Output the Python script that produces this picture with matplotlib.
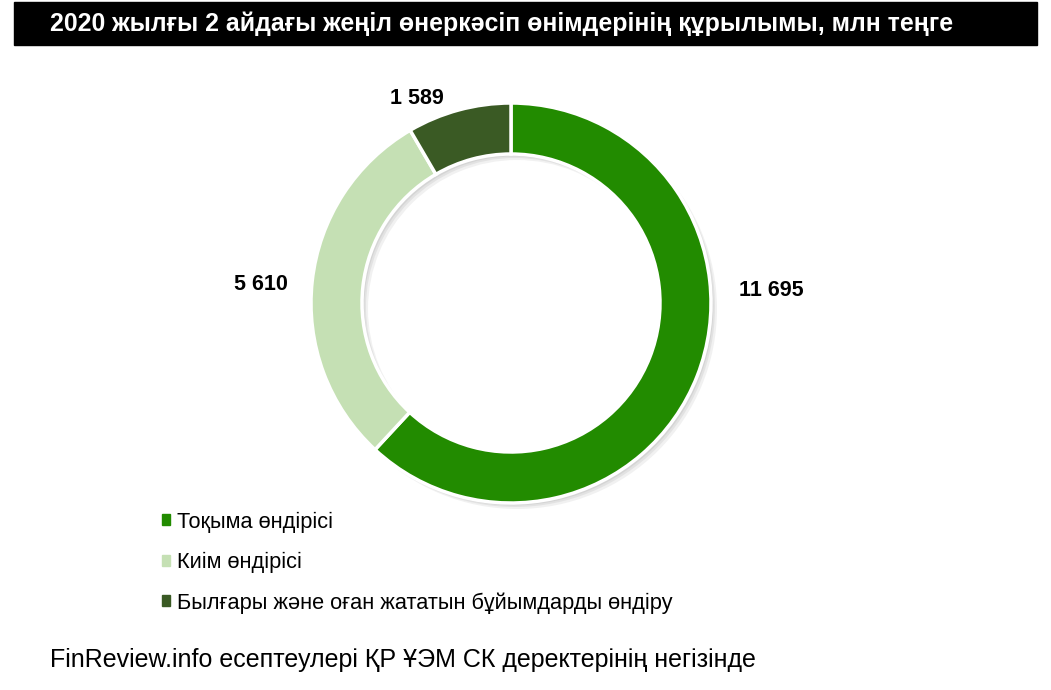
import matplotlib
matplotlib.use("Agg")
import matplotlib.pyplot as plt
import matplotlib.patches as mpatches
import numpy as np

# data
categories = ["Тоқыма өндірісі", "Киім өндірісі",
              "Былғары және оған жататын бұйымдарды өндіру"]
values = [11695, 5610, 1589]
colors = ["#228B00", "#C5E0B4", "#3A5A24"]
label_pos = [(1.3, 0.06), (-1.25, 0.095), (-0.47, 1.02)]

title = "2020 жылғы 2 айдағы жеңіл өнеркәсіп өнімдерінің құрылымы, млн теңге"
source = "FinReview.info есептеулері ҚР ҰЭМ СК деректерінің негізінде"

plt.rcParams['font.family'] = ['Liberation Sans', 'DejaVu Sans']

W, H = 1051, 690
fig = plt.figure(figsize=(W / 100, H / 100), dpi=100)
fig.patch.set_facecolor("white")

# title bar
fig.patches.append(mpatches.Rectangle((14 / W, 1 - 45 / H), (1037 - 14) / W, 43 / H,
                                      transform=fig.transFigure, color="black", zorder=0))
fig.text(50 / W, 1 - 24 / H, title, color="white", fontsize=17.9, fontweight="bold",
         va="center", ha="left")

# donut
cx, cy, r = 511, 303, 200
ax = fig.add_axes([(cx - r) / W, (H - cy - r) / H, 2 * r / W, 2 * r / H])
# soft shadow
for k, a in [(0.03, 0.25), (0.02, 0.35), (0.012, 0.5)]:
    ax.pie([1], radius=1.0, colors=["#c8c8c8"], center=(k, -k),
           wedgeprops=dict(width=0.255, edgecolor="none", alpha=a))
wedges, _ = ax.pie(values, colors=colors, startangle=90, counterclock=False,
                   wedgeprops=dict(width=0.255, edgecolor="white", linewidth=2.5))
ax.set_xlim(-1, 1)
ax.set_ylim(-1, 1)
ax.set_aspect("equal")
ax.axis("off")
for p in ax.patches:
    p.set_clip_on(False)

for v, (x, y) in zip(values, label_pos):
    ax.text(x, y, f"{v:,}".replace(",", " "), ha="center", va="center",
            fontsize=15.5, fontweight="bold", color="black")

handles = [mpatches.Patch(color=c, label=l) for c, l in zip(colors, categories)]
fig.legend(handles=handles, loc="upper left", bbox_to_anchor=(142 / W, 1 - 492 / H),
           frameon=False, fontsize=15.7, handlelength=0.4, handleheight=0.4,
           handletextpad=0.3, labelspacing=0.88)

fig.text(50 / W, 1 - 660 / H, source, fontsize=18, ha="left", va="center", color="black")

fig.savefig("out.png", dpi=100)
